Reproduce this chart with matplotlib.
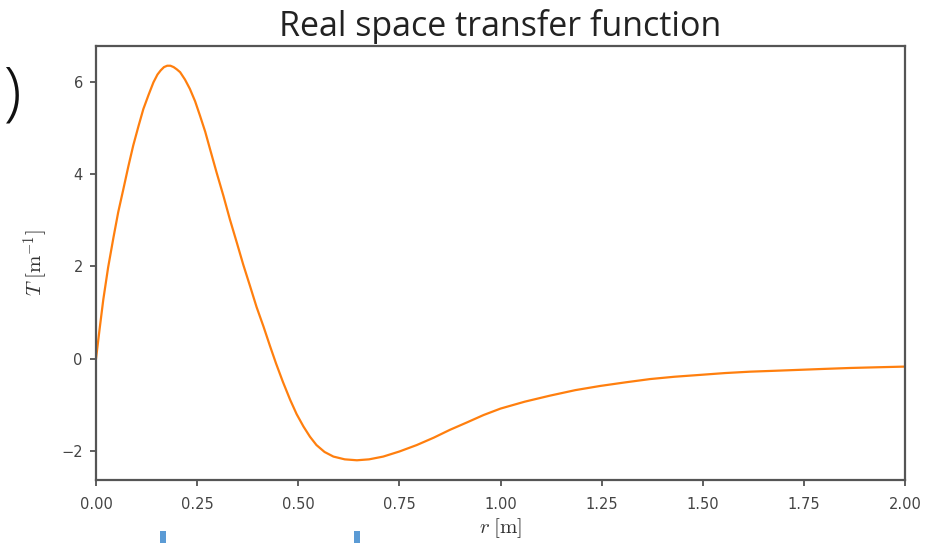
import matplotlib
matplotlib.use("Agg")
import matplotlib.pyplot as plt

# Radial distance r [m] and transfer function T [1/m]
r_vals = [0.000, 0.009, 0.018, 0.030, 0.043, 0.055, 0.068, 0.080, 0.092, 0.105,
          0.117, 0.130, 0.142, 0.152, 0.160, 0.168, 0.176, 0.184, 0.192, 0.200,
          0.208, 0.220, 0.232, 0.245, 0.257, 0.270, 0.282, 0.298, 0.315, 0.331,
          0.348, 0.364, 0.381, 0.397, 0.414, 0.430, 0.445, 0.462, 0.480, 0.496,
          0.513, 0.529, 0.545, 0.565, 0.587, 0.615, 0.645, 0.675, 0.710, 0.750,
          0.793, 0.835, 0.875, 0.917, 0.958, 1.000, 1.060, 1.122, 1.185, 1.246,
          1.310, 1.370, 1.430, 1.493, 1.555, 1.617, 1.680, 1.740, 1.800, 1.864,
          1.930, 2.000]
t_vals = [0.00, 0.65, 1.28, 1.98, 2.62, 3.18, 3.69, 4.17, 4.62, 5.04,
          5.41, 5.72, 5.99, 6.16, 6.25, 6.32, 6.35, 6.35, 6.32, 6.27,
          6.21, 6.05, 5.85, 5.58, 5.27, 4.92, 4.54, 4.04, 3.53, 3.02,
          2.52, 2.04, 1.57, 1.12, 0.70, 0.28, -0.10, -0.50, -0.89, -1.20,
          -1.47, -1.69, -1.87, -2.02, -2.12, -2.18, -2.20, -2.18, -2.12, -2.01,
          -1.87, -1.71, -1.54, -1.38, -1.22, -1.08, -0.93, -0.80, -0.68, -0.59,
          -0.51, -0.44, -0.39, -0.35, -0.31, -0.28, -0.26, -0.24, -0.22, -0.20,
          -0.185, -0.17]

x_ticks = [0.0, 0.25, 0.5, 0.75, 1.0, 1.25, 1.5, 1.75, 2.0]
x_ticklabels = ["0.00", "0.25", "0.50", "0.75", "1.00", "1.25", "1.50", "1.75", "2.00"]
y_ticks = [-2, 0, 2, 4, 6]

title_text = "Real space transfer function"

plt.rcParams["mathtext.fontset"] = "cm"

W, H = 935, 543
fig = plt.figure(figsize=(W / 100, H / 100), dpi=100)
ax = fig.add_axes([96 / W, 1 - 480 / H, (905 - 96) / W, (480 - 46) / H])

ax.plot(r_vals, t_vals, color="#ff7f0e", lw=1.6)
ax.set_xlim(0, 2)
ax.margins(y=0.05)

ax.set_xticks(x_ticks)
ax.set_xticklabels(x_ticklabels)
ax.set_yticks(y_ticks)
ax.tick_params(labelsize=10.5, colors="#444444", length=4.5, width=1.2)
ax.tick_params(axis="x", pad=8)
ax.tick_params(axis="y", pad=5)
for s in ax.spines.values():
    s.set_color("#555555")
    s.set_linewidth(1.6)

ax.set_xlabel(r"$r\;[\mathrm{m}]$", fontsize=15, labelpad=3, color="#333333")
ax.set_ylabel(r"$T\;[\mathrm{m}^{-1}]$", fontsize=15, labelpad=8, color="#333333")

ax.set_title(title_text, fontsize=24.5, family="Open Sans", color="#222222", pad=7)

# Fragments of surrounding slide elements
fig.text(0.003, 1 - 96 / H, ")", fontsize=46, family="Open Sans", weight="light",
         color="#111111", va="center", ha="left")
for xb in (160, 354):
    fig.patches.append(plt.Rectangle((xb / W, 0), 6 / W, 12 / H,
                                     transform=fig.transFigure,
                                     color="#5b9bd5", lw=0))

fig.savefig("out.png", dpi=100)
